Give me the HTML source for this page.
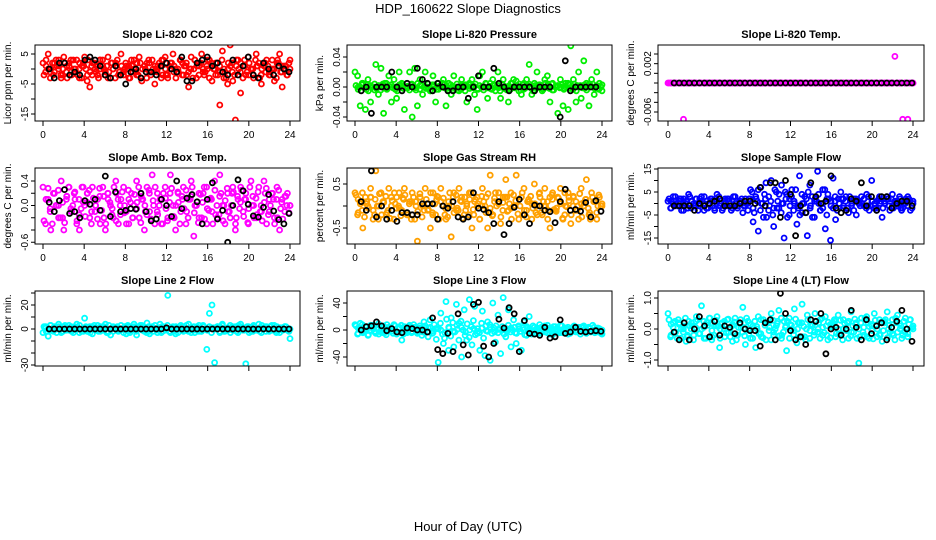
<!DOCTYPE html>
<html><head><meta charset="utf-8">
<style>
html,body{margin:0;padding:0;background:#fff;}
svg{display:block;font-family:"Liberation Sans",Arial,sans-serif;}
</style></head>
<body>
<svg id="chart" width="936" height="540" viewBox="0 0 936 540" xmlns="http://www.w3.org/2000/svg">
<text x="468" y="13" text-anchor="middle" font-size="13">HDP_160622  Slope Diagnostics</text>
<text x="468" y="531" text-anchor="middle" font-size="13">Hour of Day (UTC)</text>
</svg>
<script>
const hourTicks=[0,4,8,12,16,20,24];
const p1Main=[2,-1,5,0,-2,3,1,-3,4,-1,2,-2,0,3,-3,1,4,-4,-6,2,0,-2,3,1,-1,4,-3,0,2,-2,5,-1,1,-3,3,0,-2,4,-4,1,2,-1,3,-5,0,1,-2,4,-3,2,5,0,-1,3,-2,1,-6,4,0,-3,2,5,-2,1,3,-4,0,2,-12,6,-1,-5,8,-4,-17,3,-8,1,-2,4,0,-3,5,2,-5,1,3,-2,0,-4,2,5,-6,1,-2,3];
const p1Core=[1,-1,2,0,-2,1,3,-1,0,2,-2,1,-1,3,0,-3,2,1,-2,0,1,-1,2,-3,0,2,-1,1,3,-2,0,1,-1,2,-2,0,3,1,-1,0,2,-2,1,-3,0,2,1,-1,3,-2,0,1,-2,2,-1,0,3,-1,1,0];
const p1Fill=[-2,3,0,-3,2,-1,1,3,-2,0,2,-3,1,-1,3,0,-2,2,-3,1,0,3,-1,-2,2,1,-3,0,3,-2,1,-1,2,0,-3,3,-1,1,-2,2,0,-3,1,3,-1,-2,2,0,1,-3,3,-2,0,1,-1,2,-3,3,0,-2,1,2,-1,-3,0,3,-2,1,2,-1,0,-3,3,1,-2,2,0,-1,3,-3,1,0,2,-2,-1,3,0,-3,2,1,-1,-2,3,0,2,-3,1,-1,2,0,-2,3,1,-3,0,2,-1,1,-2,3,0,-3,2,-1,1,0,-2,2];
const p1Black=[0,-3,2,2,-2,-1,-2,3,4,3,1,-2,-3,1,-2,-5,-1,0,-3,-1,-1,-2,1,2,0,-1,4,-4,-4,2,3,4,1,2,-1,-2,3,-2,1,4,-2,-3,2,0,-2,1,0,-1];
const p2Main=[0.02,0.015,-0.025,0.005,-0.03,0.01,-0.02,0,0.03,-0.01,0.025,-0.035,0.005,0.015,-0.02,0.01,-0.015,0.02,0.005,-0.03,0,0.02,-0.04,0.025,-0.025,0.01,-0.01,0.02,0,-0.005,0.015,-0.02,0.005,0,0.01,-0.025,0.005,-0.01,0.015,0,-0.005,0.01,0,-0.02,0.005,0.01,-0.01,-0.03,0.015,0.02,0,-0.015,0.005,0.01,-0.005,0.02,-0.015,0.01,0,-0.02,0.005,0.01,0.008,-0.005,-0.01,0.005,0.01,0.03,-0.01,0.005,0.02,0,-0.005,0.01,0.015,-0.02,0.005,0,-0.035,0.01,-0.025,0.005,-0.03,0.055,0.01,-0.02,0.02,-0.015,0.035,0.005,-0.025,0.01,-0.01,0.02,0.005,-0.005];
const p2Core=[0,0.003,-0.003,0.002,-0.004,0.001,0.004,-0.002,0,-0.003,0.003,0.001,-0.001,0.004,-0.004,0.002,0,-0.002,0.003,-0.003,0.001,0.004,-0.001,0,-0.004,0.002,0.003,-0.002,0.001,-0.003,0,0.004,-0.002,0.002,-0.001,0.003,-0.004,0,0.001,0.004,-0.003,0.002,-0.002,0,0.003,-0.001,0.004,-0.004,0.001,0,-0.002,0.003,-0.003,0.002,0.001,-0.001,0.004,0,-0.002,0.003];
const p2Fill=[0.002,-0.003,0,0.005,-0.001,0.003,-0.005,0.001,0,0.004,-0.002,0.002,-0.004,0,0.005,-0.003,0.001,0.003,-0.001,0,-0.005,0.002,0.004,-0.002,0,0.001,-0.004,0.003,0,-0.001,0.005,-0.003,0.002,0,-0.002,0.004,-0.005,0.001,0.003,0,-0.003,0.002,0.005,-0.001,0,-0.004,0.003,0.001,-0.002,0.004,0,-0.003,0.002,-0.005,0.001,0.003,0,-0.001,0.004,-0.002,0.002,0,-0.004,0.005,-0.001,0.001,-0.003,0.003,0,0.002,-0.005,0.004,-0.002,0,0.001,-0.003,0.005,-0.001,0.002,0,-0.004,0.003,-0.002,0.001,0.004,0,-0.005,0.002,-0.001,0.003,0,-0.003,0.005,0.001,-0.002,0.004,-0.004,0,0.002,-0.001,0.003,-0.003,0,0.005,-0.002,0.001,0.004,-0.005,0,0.002,-0.001,0.003,-0.004,0.001,0,0.004,-0.002,0.002,-0.003,0];
const p2Black=[-0.005,0,-0.035,0,0,0,0.02,0,-0.005,0.005,0,0.025,0.01,0.005,-0.005,0.005,0,-0.005,-0.005,0,0,-0.015,0,0.015,0,0,0.025,0.005,0,-0.005,0,0,0,0,-0.005,0,0,0,-0.05,-0.04,0.035,-0.005,0,0,0,0,0,-0.05];
const p3Main=[0,0,0,0,0,0,-0.0075,0,0,0,0,0,0,0,0,0,0,0,0,0,0,0,0,0,0,0,0,0,0,0,0,0,0,0,0,0,0,0,0,0,0,0,0,0,0,0,0,0,0,0,0,0,0,0,0,0,0,0,0,0,0,0,0,0,0,0,0,0,0,0,0,0,0,0,0,0,0,0,0,0,0,0,0,0,0,0,0,0,0.0055,0,0,-0.0075,0,-0.0075,0,0];
const p3Core=[0,0,0,0,0,0,0,0,0,0,0,0,0,0,0,0,0,0,0,0,0,0,0,0,0,0,0,0,0,0,0,0,0,0,0,0,0,0,0,0,0,0,0,0,0,0,0,0,0,0,0,0,0,0,0,0,0,0,0,0];
const p3Fill=[0,0,0,0,0,0,0,0,0,0,0,0,0,0,0,0,0,0,0,0,0,0,0,0,0,0,0,0,0,0,0,0,0,0,0,0,0,0,0,0];
const p3Black=[0,0,0,0,0,0,0,0,0,0,0,0,0,0,0,0,0,0,0,0,0,0,0,0,0,0,0,0,0,0,0,0,0,0,0,0,0,0,0,0,0,0,0,0,0,0,0,0];
const p4Main=[0.3,-0.3,0.1,-0.4,0.2,0,-0.2,0.4,-0.4,0.1,0.3,-0.1,0.2,-0.3,-0.4,0.3,0,0.2,-0.2,0.3,-0.1,0.1,-0.3,0.3,-0.4,0.2,0,-0.2,0.4,-0.3,0.1,0.3,-0.1,-0.3,0.2,0,0.4,-0.2,0.1,-0.4,0.3,-0.1,0.5,-0.3,0.2,0.1,-0.3,0.3,-0.2,0.5,0,-0.4,0.2,-0.1,0.3,-0.3,0.1,0.4,-0.5,0,0.2,-0.2,0.3,-0.3,0.1,-0.1,0.4,-0.2,0.5,0,-0.3,0.2,-0.2,0.3,-0.4,0.1,0.3,-0.1,0.2,-0.3,0.4,0,-0.2,0.3,-0.1,0.4,-0.3,0.1,0.2,-0.2,0.3,-0.4,0.1,-0.1,0.2,0];
const p4Core=[0.1,-0.1,0.2,0,-0.2,0.15,-0.05,0.1,-0.15,0.05,0.2,-0.1,0,0.15,-0.2,0.1,-0.05,0.2,-0.15,0,0.1,-0.2,0.05,0.15,-0.1,0.2,0,-0.15,0.1,-0.05,0.2,-0.2,0.05,0.1,-0.1,0.15,0,-0.2,0.2,-0.05,0.1,-0.15,0.15,0,-0.1,0.2,-0.2,0.05,0.1,-0.05,0.15,-0.15,0,0.2,-0.1,0.1,-0.2,0.05,0.15,0];
const p4Fill=[-0.25,0.1,0.28,-0.05,-0.3,0.2,0,0.25,-0.2,0.05,-0.28,0.15,0.3,-0.1,0,0.22,-0.25,0.1,-0.05,0.3,-0.18,0.05,0.25,-0.3,0.12,0,-0.22,0.28,-0.08,0.15,-0.3,0.2,0.05,-0.15,0.3,-0.25,0.1,0,0.22,-0.12,-0.3,0.25,0.05,-0.2,0.18,-0.05,0.3,-0.28,0.1,0,-0.15,0.25,-0.22,0.08,0.3,-0.1,0,-0.3,0.2,0.12,-0.25,0.05,0.28,-0.18,0,0.22,-0.3,0.15,-0.05,0.25,-0.2,0.1,0.3,-0.12,0,-0.28,0.18,0.05,-0.22,0.3,-0.08,0.12,-0.3,0.25,0,-0.15,0.2,-0.25,0.08,0.28,-0.1,0,0.22,-0.3,0.15,-0.05,0.25,-0.18,0.1,-0.28,0.3,0,-0.2,0.12,0.22,-0.1,-0.25,0.05,0.28,-0.15,0,0.2,-0.3,0.1,0.25,-0.05,-0.22,0.15,0,-0.12];
const p4Black=[0.05,-0.1,0.08,0.26,-0.13,-0.1,-0.2,0.08,0.02,0.1,-0.08,0.48,-0.18,0.22,-0.1,-0.08,-0.05,-0.06,0.2,-0.1,-0.25,-0.22,0.1,0,-0.18,0.4,-0.05,0.12,0.18,0.06,-0.3,0.1,0.37,-0.22,-0.08,-0.6,0,0.42,0.24,0.02,-0.17,-0.19,-0.03,0.18,-0.09,-0.23,-0.3,-0.13];
const p5Main=[0.3,-0.2,0.1,-0.5,0.2,0,0.4,-0.1,0.8,-0.3,0.3,0.1,-0.2,0.4,0,-0.3,0.2,0.3,-0.1,0.4,-0.2,0.1,0.3,-0.3,-0.8,0.2,0,0.4,-0.1,-0.5,0.3,-0.2,0.2,0.4,0,-0.3,0.1,-0.7,0.3,-0.1,0.4,0.2,-0.2,0,0.3,-0.5,0.1,0.2,-0.3,0.4,0,-0.5,0.7,-0.2,0.3,0.1,-0.4,0.2,0.6,-0.1,0.3,0,0.7,-0.3,0.2,0.4,-0.1,0.1,-0.3,0.5,0,0.3,-0.2,0.4,0.1,-0.5,0.3,-0.1,0.2,0.4,-0.3,0,0.3,-0.4,0.2,0.1,-0.3,0.4,0,0.6,-0.2,0.3,0.1,-0.3,0.2,0];
const p5Core=[0.15,-0.1,0.05,0.2,-0.2,0,0.1,-0.15,0.2,0.05,-0.05,0.15,-0.2,0.1,0,0.2,-0.1,0.05,-0.15,0.15,0.1,-0.2,0,0.2,-0.05,0.1,-0.1,0.15,-0.2,0.05,0,0.2,-0.15,0.1,0.05,-0.1,0.2,-0.05,0,0.15,-0.2,0.1,0.05,-0.15,0.2,0,-0.1,0.15,-0.05,0.1,-0.2,0.2,0,-0.1,0.05,0.15,-0.15,0.1,0,0.05];
const p5Fill=[0.25,-0.15,0.05,0.3,-0.25,0.1,-0.05,0.2,-0.3,0.15,0,0.28,-0.2,0.08,0.22,-0.1,-0.28,0.12,0.3,-0.05,0,-0.22,0.18,0.25,-0.15,0.05,-0.3,0.2,0.1,-0.12,0.28,-0.25,0,0.15,-0.08,0.3,-0.2,0.05,0.22,-0.3,0.1,0.18,-0.05,-0.25,0.3,0,-0.15,0.25,-0.1,0.12,-0.28,0.2,0.05,-0.2,0.3,-0.08,0.15,0,-0.3,0.22,0.1,-0.15,0.28,-0.05,-0.22,0.18,0,0.3,-0.25,0.08,0.2,-0.12,0.05,-0.3,0.25,0.12,-0.18,0,0.3,-0.1,-0.25,0.15,0.22,-0.05,0.05,-0.2,0.28,-0.15,0.1,0,-0.3,0.2,0.25,-0.08,-0.12,0.18,0.05,-0.28,0.3,-0.02,0.12,-0.2,0.22,-0.1,0,0.28,-0.25,0.08,0.15,-0.05,-0.3,0.2,0.1,-0.15,0.25,0];
const p5Black=[0.1,-0.1,0.8,-0.25,0,-0.3,-0.1,-0.35,-0.15,-0.15,-0.2,-0.2,0.05,0.05,0.05,-0.3,0,-0.05,0.1,-0.25,-0.3,-0.25,0.3,-0.05,-0.08,-0.15,-0.4,0.1,-0.65,-0.4,-0.03,0.15,-0.2,-0.4,0.02,0,-0.1,-0.13,-0.38,0.1,0.38,-0.1,-0.08,-0.12,0.08,-0.25,0.12,-0.12];
const p6Main=[1,-2,3,0,-1,2,-3,1,4,-2,0,2,-1,3,-3,1,0,2,-2,4,-1,-3,1,2,0,-2,3,-1,1,-4,2,0,6,-8,3,-12,7,-6,9,-3,10,-10,5,-2,8,-15,4,-5,6,0,-9,12,-4,3,-14,8,-6,2,14,-3,6,-11,4,-16,11,-7,2,5,-2,3,-4,1,2,-5,0,3,-1,4,-3,10,-2,1,3,-6,0,2,-3,4,1,-1,2,-2,0,3,-3,1];
const p6Core=[1,-1,2,0,-2,1,-1,2,0,-2,1,2,-1,0,2,-2,1,0,-1,2,-2,1,0,2,-1,-2,1,0,2,-1,1,-2,0,2,-1,1,0,-2,2,-1,1,0,2,-2,-1,1,0,2,-1,1,-2,0,1,2,-1,0,-2,1,2,0];
const p6Fill=[2,-2,0,3,-1,1,-3,2,0,-2,3,1,-1,2,-3,0,1,3,-2,0,2,-1,-3,1,3,0,-2,2,-1,1,-3,3,0,-2,1,2,-1,0,-3,2,5,-4,2,6,-3,0,4,-6,3,1,-5,6,-2,4,-4,0,5,-6,2,3,-3,6,-1,-5,4,0,-4,5,-2,3,-6,1,4,-3,0,6,-5,2,1,-2,3,-3,0,2,-1,1,-2,3,0,-3,2,1,-1,0,2,-2,3,-1,1,0,-3,2,1,-2,0,3,-1,2,-2,0,1,3,-3,0,2,-1,1,-2];
const p6Black=[-1,-1,-1,-1,-3,0,-1,0,1,2,-1,-1,-1,0,1,1,0,7,-1,9,9,-6,10,4,-14,-1,-4,9,3,0,1,12,-2,-4,-3,2,1,9,-1,3,-3,3,3,-2,0,1,1,-1];
const p7Main=[-3,2,-6,3,-2,1,4,-3,2,-1,3,-2,1,4,-3,0,9,-2,2,-4,1,3,-2,0,4,-3,-5,2,1,-2,3,0,-4,2,-1,4,-5,1,3,-2,5,-4,2,0,-3,4,-2,1,28,-3,2,-4,1,3,-2,0,4,-3,2,-1,3,-2,0,-17,13,20,-28,2,-3,4,-2,1,3,-1,2,-3,4,1,-29,2,-2,3,-1,4,-3,1,2,-2,3,-1,2,-3,1,2,-1,-8];
const p7Core=[1,-1,2,0,-2,1,-1,2,0,-2,1,2,-1,0,2,-2,1,0,-1,2,-2,1,0,2,-1,-2,1,0,2,-1,1,-2,0,2,-1,1,0,-2,2,-1,1,0,2,-2,-1,1,0,2,-1,1,-2,0,1,2,-1,0,-2,1,2,0];
const p7Fill=[2,-2,0,3,-1,1,-3,2,0,-2,3,1,-1,2,-3,0,1,3,-2,0,2,-1,-3,1,3,0,-2,2,-1,1,-3,3,0,-2,1,2,-1,0,-3,2,3,-3,1,2,-2,0,3,-1,1,-3,2,0,-2,3,-1,1,-3,2,0,3,-2,1,-1,2,-3,0,2,-1,3,-2,1,0,-3,2,1,-2,3,0,-1,2,-3,1,0,2,-2,3,-1,0,1,-3,2,0,-2,3,1,-1,0,2,-3,1,2,-1,0,-2,3,1,-2,0,2,-1,3,-3,0,1,-1,2,0,-2];
const p7Black=[0,0,0,0,0,0,0,0,0,0,0,0,0,0,0,0,0,0,0,0,0,0,0,1,0,0,0,0,0,0,0,0,0,0,0,0,0,0,0,0,0,0,0,0,0,0,0,0];
const p8Main=[8,-6,10,-4,5,-8,7,2,-5,9,-3,6,-7,4,-2,8,-6,3,-15,5,-4,7,-2,4,-5,3,-3,6,-2,4,-4,2,-48,25,-20,42,-30,18,-25,38,10,-40,30,-15,45,-22,35,-5,-30,28,-38,12,-45,40,-18,22,-35,48,-10,30,-25,15,-20,5,-30,12,-8,20,-6,4,-5,8,-3,6,-4,3,-7,5,-2,7,-4,3,-6,2,5,-3,4,-2,6,-5,3,-2,4,-3,2,-6];
const p8Core=[3,-2,4,0,-3,2,-4,1,3,-1,2,-3,0,4,-2,1,-3,3,-1,2,0,-4,3,-2,1,4,-3,0,2,-2,3,-1,4,-3,1,0,-2,3,-4,2,0,3,-2,1,-3,4,0,-1,2,-3,3,1,-2,0,4,-3,2,-1,3,0];
const p8Fill=[6,-5,2,8,-3,0,-7,4,7,-2,3,-6,5,0,-4,8,-1,2,-5,6,-3,4,7,-6,1,-2,5,-4,8,0,-3,6,-8,12,3,-10,15,-5,8,-14,2,10,-6,-12,16,4,-9,11,-3,7,-15,13,0,-8,9,-11,5,14,-7,2,-4,10,-12,6,-2,8,-5,3,6,-4,1,5,-6,2,7,-3,0,4,-5,6,-2,3,-7,5,1,-4,6,-1,3,-5,4,0,-3,7,-6,2,5,-2,1,-4,6,-3,0,4,-5,2,6,-1,3,-6,5,-2,0,4,-3,7,-4,1,2,-5];
const p8Black=[0,5,6,12,6,-1,2,-3,-4,3,2,0,0,-3,18,-29,-35,-5,-32,24,-22,-37,38,41,-24,-40,-20,16,3,33,24,-32,14,-5,-6,-8,4,-12,-10,15,-5,-3,4,-2,-3,-2,-1,-2];
const p9Main=[0.5,-0.25,0.2,-0.1,0.3,-0.3,0.1,-0.4,0.25,0,-0.2,0.4,-0.15,0.75,-0.3,0.2,0.35,-0.35,0.1,0.4,-0.6,0.2,-0.25,0.3,0,-0.4,0.35,-0.2,0.15,0.7,-0.5,0.25,-0.3,0.1,-0.6,0.4,-0.15,0.3,-0.35,0.2,0.5,-0.2,0.1,0.6,-0.3,0.25,-0.7,0.35,0,0.65,-0.45,0.2,0.8,-0.25,0.45,-0.3,0.1,0.5,-0.1,0.3,-0.2,0.4,-0.35,0.15,0.2,-0.25,0.45,-0.15,0.3,0,-0.3,0.55,-0.1,0.2,-1.1,0.35,-0.2,0.4,-0.3,0.1,0.5,-0.25,0.3,-0.4,0.2,0.55,-0.1,0.3,-0.35,0.45,0,-0.2,0.35,-0.25,0.3,0.1];
const p9Core=[0.15,-0.1,0.2,0,-0.2,0.1,0.25,-0.15,0.05,0.2,-0.25,0.1,0,0.25,-0.1,0.15,-0.2,0.05,0.2,-0.15,0.1,0,-0.25,0.2,0.05,-0.1,0.25,-0.2,0.1,0.15,-0.05,0.2,-0.25,0,0.15,-0.1,0.2,0.05,-0.2,0.1,0.25,-0.15,0,0.2,-0.1,0.15,-0.25,0.05,0.2,-0.05,0.1,-0.2,0.25,0,-0.15,0.2,0.1,-0.1,0.15,0];
const p9Fill=[0.3,-0.2,0.05,0.25,-0.3,0.15,0,-0.1,0.35,-0.25,0.1,0.2,-0.35,0.05,0.3,-0.15,0,0.25,-0.3,0.12,0.35,-0.05,-0.2,0.28,0.08,-0.3,0.18,0,-0.12,0.32,-0.25,0.1,0.22,-0.35,0.05,0.3,-0.1,-0.22,0.35,0,0.15,-0.3,0.25,0.08,-0.15,0.3,-0.28,0.12,0.2,-0.05,-0.35,0.28,0,0.18,-0.22,0.35,-0.1,0.05,0.25,-0.3,0.12,-0.18,0.32,0,-0.25,0.2,0.08,-0.35,0.3,-0.05,0.15,-0.2,0.25,0,-0.3,0.35,-0.12,0.1,0.22,-0.28,0.05,0.3,-0.15,0,0.28,-0.35,0.18,-0.05,0.25,-0.22,0.1,0.32,-0.3,0,0.2,-0.1,0.35,-0.25,0.08,0.15,-0.32,0.28,0,-0.18,0.22,-0.05,0.3,-0.28,0.12,0.05,-0.2,0.35,-0.1,0.18,-0.3,0.25,0,-0.15,0.3,0.05];
const p9Black=[-0.1,-0.35,0.2,-0.35,0,0.4,0.1,-0.25,0.25,-0.2,0.1,0.05,-0.15,0.2,0,-0.05,-0.05,-0.55,0.2,0.3,-0.35,1.15,0.5,-0.05,-0.35,-0.25,-0.5,0.3,0.25,0.5,-0.8,0,0.05,-0.2,0,0.6,0.05,-0.35,0.3,-0.15,0.1,0.2,-0.35,0.05,0.25,0.6,0,-0.4];

const NS='http://www.w3.org/2000/svg';
const svg=document.getElementById('chart');
function mk(tag,attrs,parent){const e=document.createElementNS(NS,tag);for(const k in attrs)e.setAttribute(k,attrs[k]);(parent||svg).appendChild(e);return e;}

const cols=[{bx:35,bw:265,x0:43,x24:290},{bx:347,bw:265,x0:355,x24:602},{bx:658,bw:266,x0:668,x24:913}];
const rows=[{by:45,bh:76,xl:true},{by:168,bh:76,xl:true},{by:291,bh:75,xl:false}];
const panels=[
 {t:'Slope Li-820 CO2',yl:'Licor ppm per min.',c:'#ff0000',main:p1Main,core:p1Core,fill:p1Fill,blk:p1Black,ticks:[5,0,-5,-10,-15],labs:['5','-5','-15'],labv:[5,-5,-15],a:[5,54],b:[-15,114]},
 {t:'Slope Li-820 Pressure',yl:'kPa per min.',c:'#00ee00',main:p2Main,core:p2Core,fill:p2Fill,blk:p2Black,ticks:[0.04,0.02,0,-0.02,-0.04],labs:['0.04','0.00','-0.04'],labv:[0.04,0,-0.04],a:[0.04,57],b:[-0.04,117]},
 {t:'Slope Li-820 Temp.',yl:'degrees C per min.',c:'#ff00ff',main:p3Main,core:p3Core,fill:p3Fill,blk:p3Black,ticks:[0.006,0.004,0.002,0,-0.002,-0.004,-0.006],labs:['0.002','-0.006'],labv:[0.004,-0.006],a:[0,83],b:[-0.006,112]},
 {t:'Slope Amb. Box Temp.',yl:'degrees C per min.',c:'#ff00ff',main:p4Main,core:p4Core,fill:p4Fill,blk:p4Black,ticks:[0.4,0.2,0,-0.2,-0.4,-0.6],labs:['0.4','0.0','-0.6'],labv:[0.4,0,-0.6],a:[0.4,181],b:[-0.4,230]},
 {t:'Slope Gas Stream RH',yl:'percent per min.',c:'#ffa000',main:p5Main,core:p5Core,fill:p5Fill,blk:p5Black,ticks:[0.5,0,-0.5],labs:['0.5','-0.5'],labv:[0.5,-0.5],a:[0.5,184],b:[-0.5,228]},
 {t:'Slope Sample Flow',yl:'ml/min per min.',c:'#0000ff',main:p6Main,core:p6Core,fill:p6Fill,blk:p6Black,ticks:[15,10,5,0,-5,-10,-15],labs:['15','5','-5','-15'],labv:[15,5,-5,-15],a:[15,169],b:[-15,238]},
 {t:'Slope Line 2 Flow',yl:'ml/min per min.',c:'#00ffff',main:p7Main,core:p7Core,fill:p7Fill,blk:p7Black,ticks:[30,20,10,0,-10,-20,-30],labs:['20','0','-30'],labv:[20,0,-30],a:[20,305],b:[-20,353]},
 {t:'Slope Line 3 Flow',yl:'ml/min per min.',c:'#00ffff',main:p8Main,core:p8Core,fill:p8Fill,blk:p8Black,ticks:[40,20,0,-20,-40],labs:['40','0','-40'],labv:[40,0,-40],a:[40,303],b:[-40,357]},
 {t:'Slope Line 4 (LT) Flow',yl:'ml/min per min.',c:'#00ffff',main:p9Main,core:p9Core,fill:p9Fill,blk:p9Black,ticks:[1,0.5,0,-0.5,-1],labs:['1.0','0.0','-1.0'],labv:[1,0,-1],a:[1,298],b:[-1,360]}
];

panels.forEach((p,i)=>{
 const col=cols[i%3],row=rows[Math.floor(i/3)];
 const g=mk('g',{});
 
 
 const xs=h=>col.x0+(col.x24-col.x0)*h/24;
 const ys=v=>p.a[1]+(v-p.a[0])*(p.b[1]-p.a[1])/(p.b[0]-p.a[0]);
 const cid='clip'+i;
 const cp=mk('clipPath',{id:cid},g);
 mk('rect',{x:col.bx,y:row.by,width:col.bw,height:row.bh},cp);
 const title=mk('text',{x:col.bx+col.bw/2,y:row.by-7,'text-anchor':'middle','font-size':'11','font-weight':'bold'},g);
 title.textContent=p.t;
 
 
 const yt=mk('text',{x:0,y:0,'text-anchor':'middle','font-size':'10',transform:`translate(${col.bx-24},${row.by+row.bh/2}) rotate(-90)`},g);
 yt.textContent=p.yl;
 
 
 const pts=mk('g',{'clip-path':`url(#${cid})`,fill:'none','stroke-width':'1.8'},g);
 
 
 const draw=(arr,h0,h1,color)=>{arr.forEach((v,k)=>{const h=h0+(h1-h0)*k/(arr.length-1);
   const c=mk('circle',{cx:xs(h).toFixed(1),cy:ys(v).toFixed(1),r:'2.5',stroke:color},pts);
   
   });};
 draw(p.fill,0.1,23.9,p.c);
 draw(p.core,0.3,24,p.c);
 draw(p.main,0,24,p.c);
 draw(p.blk,0.6,23.9,'#000');
 const box=mk('rect',{x:col.bx,y:row.by,width:col.bw,height:row.bh,fill:'none',stroke:'#000','stroke-width':'1'},g);
 
 
 const yb=row.by+row.bh;
 hourTicks.forEach(h=>{mk('line',{x1:xs(h),x2:xs(h),y1:yb,y2:yb+5,stroke:'#000'},g);
   if(row.xl){const t=mk('text',{x:xs(h),y:yb+17,'text-anchor':'middle','font-size':'10'},g);t.textContent=h;
   
   }});
 p.ticks.forEach(v=>{mk('line',{x1:col.bx-4,x2:col.bx,y1:ys(v),y2:ys(v),stroke:'#000'},g);});
 p.labs.forEach((l,k)=>{const yy=ys(p.labv[k]);
   const t=mk('text',{x:0,y:0,'text-anchor':'middle','font-size':'10',transform:`translate(${col.bx-7},${yy}) rotate(-90)`},g);t.textContent=l;
   
   });
});
</script>
</body></html>
